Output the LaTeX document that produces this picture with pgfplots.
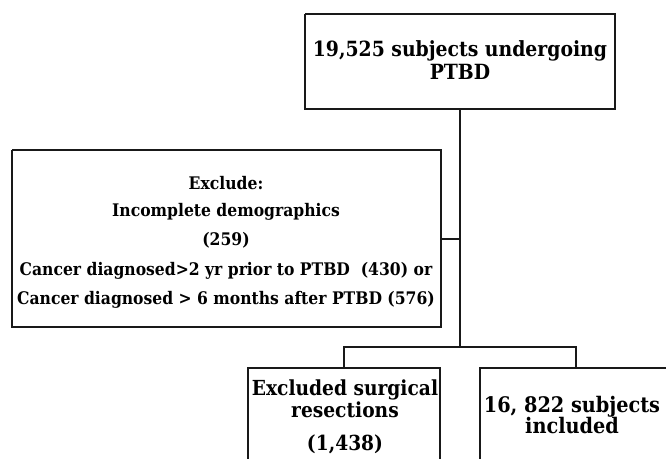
\documentclass[border=0pt]{standalone}
\usepackage{pgfplots}
\pgfplotsset{compat=1.18}
\usepackage{fontspec}
\setmainfont{DejaVu Serif Condensed}
\begin{document}
\begin{tikzpicture}
\useasboundingbox (0,0) rectangle (666bp,459bp);
\begin{axis}[
  at={(0,0)}, anchor=south west,
  width=666bp, height=459bp, scale only axis,
  xmin=0, xmax=666, ymin=0, ymax=459, y dir=reverse,
  axis lines=none, clip=false,
]
\tikzset{ln/.style={black!90, solid, line width=1.3bp, mark=none}}
% boxes
\addplot[ln] coordinates {(305,14) (615,14) (615,109) (305,109) (305,14)};
\addplot[ln] coordinates {(12,150) (441,150) (441,327) (12,327) (12,150)};
\addplot[ln] coordinates {(248,470) (248,368) (440,368) (440,470)};
\addplot[ln] coordinates {(480,470) (480,368) (672,368) (672,470)};
% connectors
\addplot[ln] coordinates {(460,109) (460,347)};
\addplot[ln] coordinates {(441,239) (460,239)};
\addplot[ln] coordinates {(344,368) (344,347) (576,347) (576,368)};
% texts
\tikzset{t/.style={anchor=base, inner sep=0pt, font=\bfseries\fontsize{21}{24}\selectfont},
         b/.style={anchor=base, inner sep=0pt, font=\bfseries\fontsize{20.8}{24}\selectfont},
         r/.style={anchor=base, inner sep=0pt, font=\bfseries\fontsize{21.5}{24}\selectfont},
         s/.style={anchor=base, inner sep=0pt, font=\bfseries\fontsize{17.4}{20}\selectfont}}
\node[t] at (axis cs:460,57) {19,525 subjects undergoing};
\node[t] at (axis cs:460,80) {PTBD};
\node[s] at (axis cs:226,189) {Exclude:};
\node[s] at (axis cs:226,216) {Incomplete demographics};
\node[s] at (axis cs:226,245) {(259)};
\node[s] at (axis cs:226,275) {Cancer diagnosed>2 yr prior to PTBD\ \ (430) or};
\node[s] at (axis cs:226,304) {Cancer diagnosed > 6 months after PTBD (576)};
\node[b] at (axis cs:345,395) {Excluded surgical};
\node[b] at (axis cs:345,417) {resections};
\node[b] at (axis cs:345,450) {(1,438)};
\node[r] at (axis cs:572,412) {16, 822 subjects};
\node[r] at (axis cs:572,433) {included};
\end{axis}
\end{tikzpicture}
\end{document}
